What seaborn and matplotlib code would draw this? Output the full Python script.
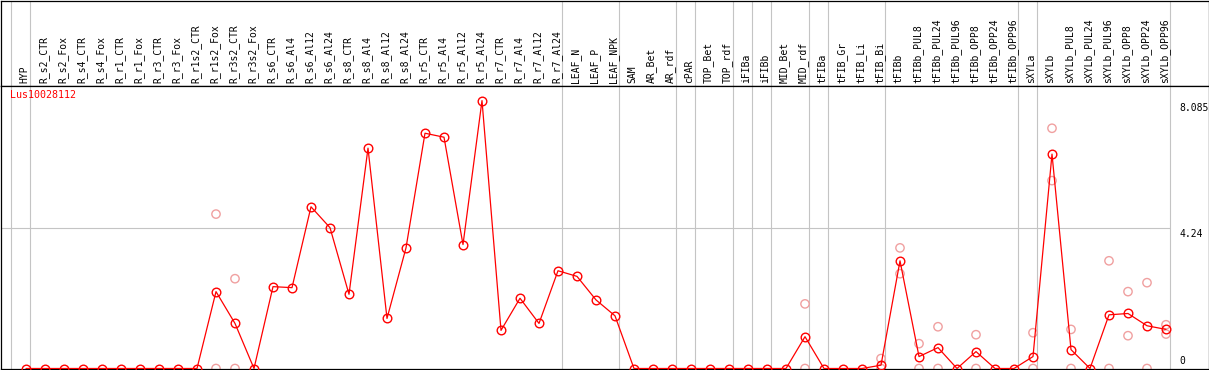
import matplotlib
matplotlib.use("Agg")
import matplotlib.pyplot as plt
import matplotlib.transforms as mtransforms
import seaborn as sns
import pandas as pd

categories = ["HYP", "R_s2_CTR", "R_s2_Fox", "R_s4_CTR", "R_s4_Fox", "R_r1_CTR", "R_r1_Fox",
              "R_r3_CTR", "R_r3_Fox", "R_r1s2_CTR", "R_r1s2_Fox", "R_r3s2_CTR", "R_r3s2_Fox",
              "R_s6_CTR", "R_s6_Al4", "R_s6_Al12", "R_s6_Al24", "R_s8_CTR", "R_s8_Al4",
              "R_s8_Al12", "R_s8_Al24", "R_r5_CTR", "R_r5_Al4", "R_r5_Al12", "R_r5_Al24",
              "R_r7_CTR", "R_r7_Al4", "R_r7_Al12", "R_r7_Al24", "LEAF_N", "LEAF_P", "LEAF_NPK",
              "SAM", "AR_Bet", "AR_rdf", "cPAR", "TOP_Bet", "TOP_rdf", "iFIBa", "iFIBb",
              "MID_Bet", "MID_rdf", "tFIBa", "tFIB_Gr", "tFIB_Li", "tFIB_Bi", "tFIBb",
              "tFIBb_PUL8", "tFIBb_PUL24", "tFIBb_PUL96", "tFIBb_OPP8", "tFIBb_OPP24",
              "tFIBb_OPP96", "sXYLa", "sXYLb", "sXYLb_PUL8", "sXYLb_PUL24", "sXYLb_PUL96",
              "sXYLb_OPP8", "sXYLb_OPP24", "sXYLb_OPP96"]

mean_values = [0, 0, 0, 0, 0, 0, 0, 0, 0, 0, 2.32, 1.36, 0,
               2.47, 2.44, 4.88, 4.25, 2.24, 6.65, 1.51, 3.64, 7.10, 6.98, 3.74, 8.085,
               1.15, 2.12, 1.36, 2.95, 2.78, 2.07, 1.59,
               0, 0, 0, 0, 0, 0, 0, 0, 0, 0.96, 0, 0, 0, 0.10, 3.25,
               0.36, 0.63, 0, 0.51, 0, 0, 0.36, 6.47, 0.57, 0, 1.62, 1.66, 1.29, 1.18]

replicate_cats = ["R_r1s2_Fox", "R_r1s2_Fox", "R_r3s2_CTR", "R_r3s2_CTR", "MID_rdf", "MID_rdf",
                  "tFIB_Bi", "tFIB_Bi", "tFIBb", "tFIBb", "tFIBb_PUL8", "tFIBb_PUL8",
                  "tFIBb_PUL24", "tFIBb_PUL24", "tFIBb_OPP8", "tFIBb_OPP8", "sXYLa", "sXYLa",
                  "sXYLb", "sXYLb", "sXYLb_PUL8", "sXYLb_PUL8", "sXYLb_PUL96", "sXYLb_PUL96",
                  "sXYLb_OPP8", "sXYLb_OPP8", "sXYLb_OPP24", "sXYLb_OPP24",
                  "sXYLb_OPP96", "sXYLb_OPP96"]
replicate_values = [4.66, 0, 2.71, 0, 1.95, 0, 0.30, 0, 3.64, 2.86, 0.75, 0,
                    1.26, 0, 1.02, 0, 1.08, 0, 7.25, 5.67, 1.18, 0, 3.25, 0,
                    2.32, 0.99, 2.59, 0, 1.32, 1.04]

group_starts = ["HYP", "R_s2_CTR", "LEAF_N", "SAM", "cPAR", "TOP_Bet", "iFIBa", "iFIBb",
                "MID_Bet", "tFIBa", "tFIB_Gr", "tFIBb", "sXYLa", "sXYLb", None]

y_ticks = [8.085, 4.24, 0]
gene = "Lus10028112"

sns.set_style("white")
plt.rcParams["font.family"] = ["DejaVu Sans Mono", "DejaVu Sans"]

W, H = 1209, 370
fig = plt.figure(figsize=(W / 100, H / 100), dpi=100)
fig.patch.set_facecolor("white")

left_px, right_px = 0.5, 1208.5
head_top, head_bot, plot_bot = 0.5, 85.5, 368.5
ax_h = fig.add_axes([left_px / W, (H - head_bot) / H, (right_px - left_px) / W, (head_bot - head_top) / H])
ax = fig.add_axes([left_px / W, (H - plot_bot) / H, (right_px - left_px) / W, (plot_bot - head_bot) / H])

n = len(categories)
idx = {c: i for i, c in enumerate(categories)}
x0_px, step = 26.0, 19.0
xmin = (left_px - x0_px) / step
xmax = (right_px - x0_px) / step
ppu = (plot_bot - 228.0) / 4.24
ymax = (plot_bot - head_bot) / ppu

df = pd.DataFrame({"x": range(n), "value": mean_values})
rep = pd.DataFrame({"x": [idx[c] for c in replicate_cats], "value": replicate_values})

grey = "#c4c4c4"
sep_positions = [(idx[c] if c is not None else n) - 1 + 3.5 / step for c in group_starts]
for s in sep_positions:
    ax.axvline(s, color=grey, lw=0.8, zorder=0)
    ax_h.axvline(s, color=grey, lw=0.8, zorder=0)
ax.plot([xmin, sep_positions[-1]], [4.24, 4.24], color=grey, lw=0.8, zorder=0)

sns.scatterplot(data=rep, x="x", y="value", ax=ax, marker="o", s=36,
                facecolors="none", edgecolor="#f0a0a0", linewidth=1.0, zorder=2, legend=False)
sns.lineplot(data=df, x="x", y="value", ax=ax, color="#ff0000", lw=0.9, marker="o",
             markersize=6.2, markerfacecolor="none", markeredgecolor="#ff0000",
             markeredgewidth=1.0, zorder=3, legend=False)

ax.set_xlim(xmin, xmax)
ax.set_ylim(0, ymax)
ax_h.set_xlim(xmin, xmax)
ax_h.set_ylim(0, 85)
for a in (ax, ax_h):
    a.set_xticks([])
    a.set_yticks([])
    a.set_xlabel("")
    a.set_ylabel("")
    for sp in a.spines.values():
        sp.set_visible(True)
        sp.set_color("black")
        sp.set_linewidth(0.9)

for i, c in enumerate(categories):
    ax_h.text(i - 0.08, 2.5, c, rotation=90, ha="center", va="bottom", fontsize=7, color="black")

ax.text((10 - x0_px) / step, ymax - 4 / ppu, gene, color="#ff0000", fontsize=7.2,
        ha="left", va="top")

tx = (1179 - x0_px) / step
ax.text(tx, 8.085 - 2 / ppu, "8.085", fontsize=7, ha="left", va="top", color="black")
ax.text(tx, 4.24 - 1 / ppu, "4.24", fontsize=7, ha="left", va="top", color="black")
ax.text(tx, 0 + 3 / ppu, "0", fontsize=7, ha="left", va="bottom", color="black")

fig.savefig("out.png", dpi=100, facecolor="white")
